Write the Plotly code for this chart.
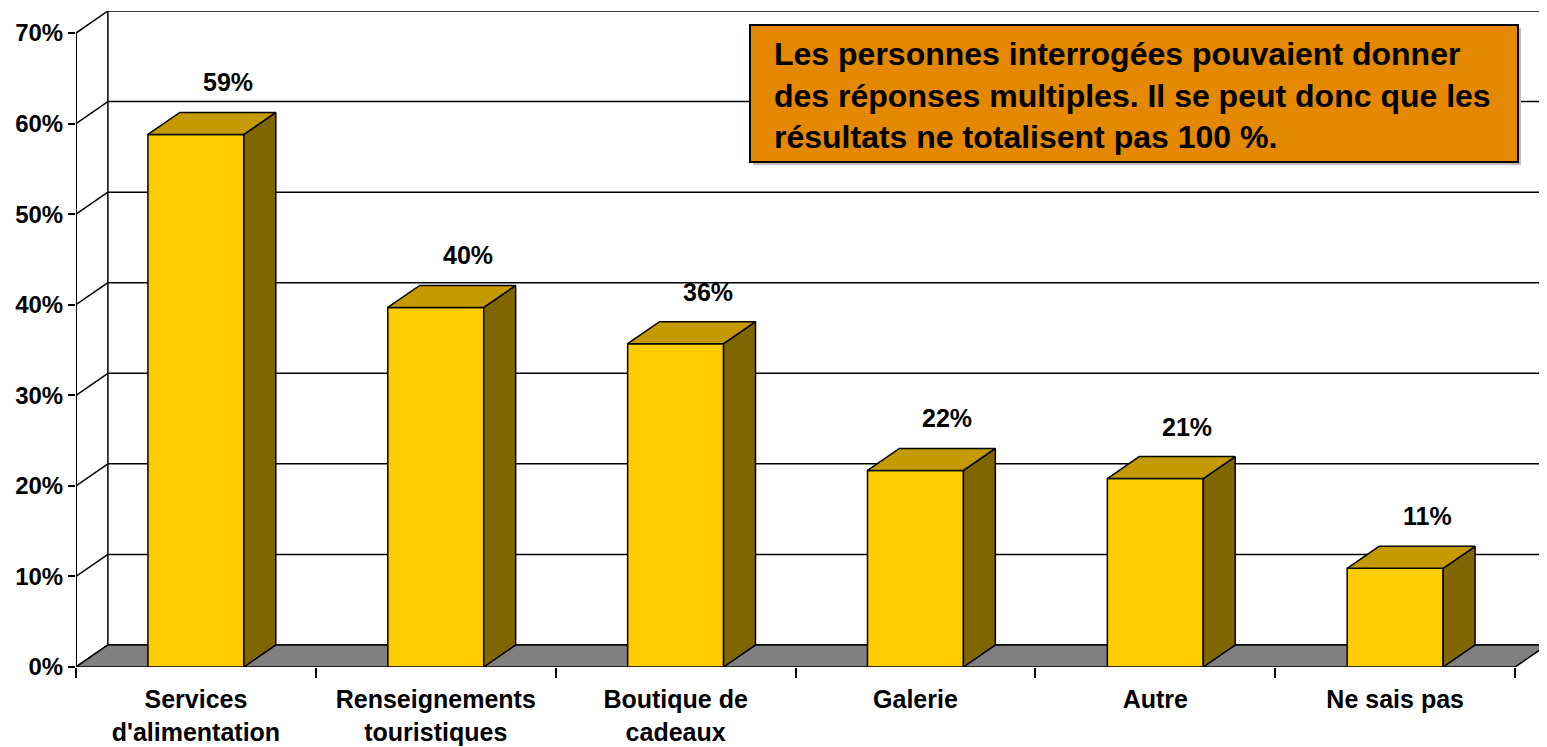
import plotly.graph_objects as go

categories = ["Services<br>d'alimentation", "Renseignements<br>touristiques", "Boutique de<br>cadeaux",
              "Galerie", "Autre", "Ne sais pas"]
values = [58.8, 39.7, 35.7, 21.7, 20.8, 10.9]
y_ticks = [0, 10, 20, 30, 40, 50, 60, 70]
y_tick_labels = ["0%", "10%", "20%", "30%", "40%", "50%", "60%", "70%"]
note = ("Les personnes interrogées pouvaient donner<br>"
        "des réponses multiples. Il se peut donc que les<br>"
        "résultats ne totalisent pas 100 %.")

FONT = "Liberation Sans"
OFF = 8                      # the page body margin pushes the figure 8px right/down
W, H = 1547 - OFF, 747 - OFF
PL, PR, PT, PB = 76, 1547, 11, 667   # plot area in screen pixels
dx, dy = 0.133, 2.43   # depth of the fake 3d box, in axis units
bw = 0.4
n = len(categories)
xs = [i + 0.5 for i in range(n)]
ymax = y_ticks[-1]


def px_x(p):
    return (p - PL) / (PR - PL)


def px_y(p):
    return (PB - p) / (PB - PT)


# back wall, side wall and floor
shapes = []
for t in y_ticks:
    shapes.append(dict(type="line", xref="x", yref="y", x0=dx, y0=t + dy, x1=n + dx, y1=t + dy,
                       line=dict(color="black", width=1.5), layer="below"))
    shapes.append(dict(type="line", xref="x", yref="y", x0=0, y0=t, x1=dx, y1=t + dy,
                       line=dict(color="black", width=1.5), layer="below"))
shapes.append(dict(type="line", xref="x", yref="y", x0=dx, y0=dy, x1=dx, y1=ymax + dy,
                   line=dict(color="black", width=1.5), layer="below"))
shapes.append(dict(type="line", xref="x", yref="y", x0=0, y0=0, x1=0, y1=ymax,
                   line=dict(color="black", width=2), layer="below"))
shapes.append(dict(type="path", xref="x", yref="y",
                   path=f"M 0 0 L {n} 0 L {n + dx} {dy} L {dx} {dy} Z",
                   fillcolor="#808080", line=dict(color="black", width=1.5), layer="below"))

# note box with a faint shadow
shapes.append(dict(type="rect", xref="paper", yref="paper",
                   x0=px_x(753), x1=px_x(1521), y0=px_y(165), y1=px_y(28),
                   fillcolor="#BDBDBD", line=dict(width=0), layer="above"))
shapes.append(dict(type="rect", xref="paper", yref="paper",
                   x0=px_x(750), x1=px_x(1518), y0=px_y(162), y1=px_y(25),
                   fillcolor="#E38800", line=dict(color="black", width=2), layer="above"))

# top and side faces of each bar
top_x, top_y, side_x, side_y = [], [], [], []
for x, v in zip(xs, values):
    x0, x1 = x - bw / 2, x + bw / 2
    top_x += [x0, x1, x1 + dx, x0 + dx, x0, None]
    top_y += [v, v, v + dy, v + dy, v, None]
    side_x += [x1, x1 + dx, x1 + dx, x1, x1, None]
    side_y += [0, dy, v + dy, v, 0, None]

fig = go.Figure()
fig.add_trace(go.Bar(x=xs, y=values, width=bw, marker=dict(color="#FFCC00", line=dict(color="black", width=1.5)),
                     hoverinfo="skip"))
fig.add_trace(go.Scatter(x=side_x, y=side_y, mode="lines", fill="toself", fillcolor="#806600",
                         line=dict(color="black", width=1.5), hoverinfo="skip"))
fig.add_trace(go.Scatter(x=top_x, y=top_y, mode="lines", fill="toself", fillcolor="#C49A00",
                         line=dict(color="black", width=1.5), hoverinfo="skip"))

annotations = []
for x, v in zip(xs, values):
    annotations.append(dict(x=x + dx, y=v + dy, xref="x", yref="y", text=f"<b>{round(v)}%</b>", showarrow=False,
                            yanchor="bottom", yshift=14, font=dict(family=FONT, size=25, color="black")))
annotations.append(dict(x=px_x(772), y=px_y(95), xref="paper", yref="paper",
                        xanchor="left", yanchor="middle", text=f"<b>{note}</b>", align="left", showarrow=False,
                        font=dict(family=FONT, size=32, color="black")))

fig.update_layout(
    width=W, height=H,
    margin=dict(l=PL - OFF, r=W - (PR - OFF), t=PT - OFF, b=H - (PB - OFF), autoexpand=False),
    paper_bgcolor="white", plot_bgcolor="white",
    showlegend=False,
    shapes=shapes, annotations=annotations,
    font=dict(family=FONT, color="black"),
    xaxis=dict(range=[0, n + dx], tickvals=xs, ticktext=[f"<b>{c}</b>" for c in categories],
               ticks="outside", ticklen=10, tickcolor="rgba(0,0,0,0)", automargin=False,
               minor=dict(tickvals=list(range(n + 1)), ticks="outside", ticklen=10, tickcolor="black", tickwidth=2),
               showgrid=False, zeroline=False, showline=False,
               tickfont=dict(family=FONT, size=25, color="black")),
    yaxis=dict(range=[0, ymax + dy], tickvals=y_ticks, ticktext=[f"<b>{t}</b>" for t in y_tick_labels],
               ticks="outside", ticklen=7, tickcolor="black", tickwidth=2, automargin=False,
               showgrid=False, zeroline=False, showline=False,
               tickfont=dict(family=FONT, size=24, color="black")),
)

fig.write_html("out.html")
